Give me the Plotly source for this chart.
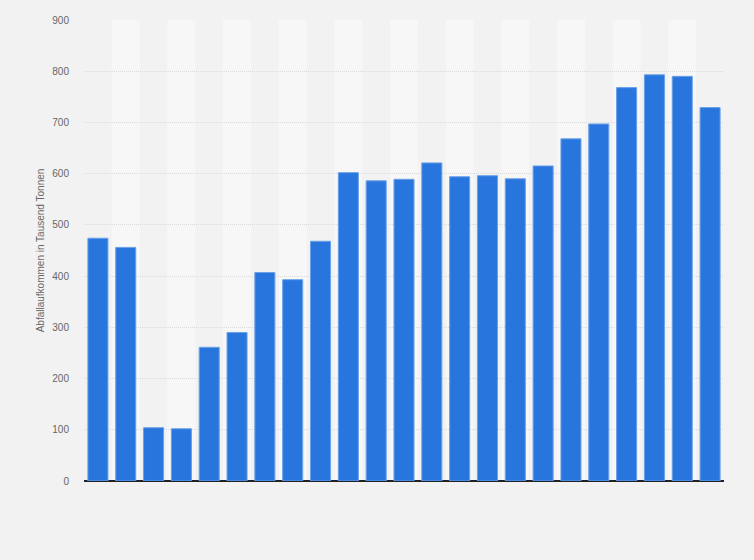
import plotly.graph_objects as go

# no x tick labels are shown in the picture, bars are just numbered
positions = list(range(23))
# Abfallaufkommen in Tausend Tonnen
values = [474, 456, 104, 102, 261, 290, 407, 393, 468, 602, 586, 589, 621, 594, 596, 590, 615, 668, 697, 768, 793, 790, 729]
y_ticks = [0, 100, 200, 300, 400, 500, 600, 700, 800, 900]

fig = go.Figure(go.Bar(x=positions, y=values,
                       marker=dict(color='#2876dd', line=dict(color='#6aa0e8', width=1)),
                       hoverinfo='y'))

# light vertical stripes behind every second bar
for i in positions:
    if i % 2 == 1:
        fig.add_shape(type='rect', xref='x', yref='y', x0=i - 0.5, x1=i + 0.5,
                      y0=0, y1=y_ticks[-1], fillcolor='#f7f7f7', line_width=0, layer='below')

fig.update_layout(
    width=754, height=560,
    margin=dict(l=84, r=30, t=20, b=79),
    paper_bgcolor='#f2f2f2', plot_bgcolor='#f2f2f2',
    bargap=0.28,
    showlegend=False,
    font=dict(family='Liberation Sans, Arial, sans-serif', size=10, color='#666666'),
)
fig.update_xaxes(range=[-0.5, len(positions) - 0.5], showticklabels=False, showgrid=False,
                 zeroline=False, showline=False, ticks='')
fig.update_yaxes(range=[0, 900], tickvals=y_ticks, showgrid=True, gridcolor='#dadada',
                 griddash='1px,1px', gridwidth=1, zeroline=True, zerolinecolor='#222222',
                 zerolinewidth=1.5, ticks='', ticklabelstandoff=14,
                 tickfont=dict(size=10, color='#666666'),
                 title=dict(text='Abfallaufkommen in Tausend Tonnen', standoff=5,
                            font=dict(size=10, color='#666666')))

# page without the white body border, so the grey fills the window
fig.write_html("out.html", config={'displayModeBar': False},
               post_script="document.body.style.margin='0';document.body.style.background='#f2f2f2';")
